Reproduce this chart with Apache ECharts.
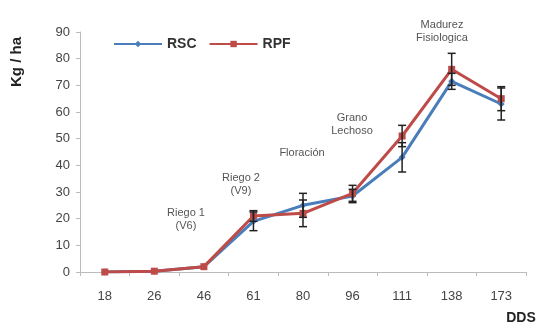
<!DOCTYPE html>
<html><head><meta charset="utf-8">
<script src="https://cdn.jsdelivr.net/npm/echarts@6/dist/echarts.min.js"></script>
<style>html,body{margin:0;padding:0;background:#fff}#c{width:540px;height:329px}</style>
</head><body><div id="c"></div>
<script>
const categories = ['18','26','46','61','80','96','111','138','173'];
const rscValues = [0, 0.3, 2, 19, 25, 28.5, 43, 71.5, 63];
const rscErrors = [0, 0, 0, 3.5, 4.5, 2.5, 5.5, 3, 6];
const rpfValues = [0, 0.3, 2, 21, 22, 29.5, 51, 76, 65];
const rpfErrors = [0, 0, 0, 2, 5, 3, 4, 6, 4.5];
const yTicks = [0, 10, 20, 30, 40, 50, 60, 70, 80, 90];
const annotations = [
  {text: 'Riego 1\n(V6)', x: 186, y: 206},
  {text: 'Riego 2\n(V9)', x: 241, y: 171},
  {text: 'Floración', x: 302, y: 146},
  {text: 'Grano\nLechoso', x: 352, y: 111},
  {text: 'Madurez\nFisiologica', x: 442, y: 18}
];

function errSeries(vals, errs, name) {
  return {
    type: 'custom', name: name + '_err', silent: true, z: 5,
    data: vals.map((v, i) => [i, v - errs[i], v + errs[i]]),
    renderItem: function (params, api) {
      const lo = api.coord([api.value(0), api.value(1)]);
      const hi = api.coord([api.value(0), api.value(2)]);
      if (Math.abs(hi[1] - lo[1]) < 1) return null;
      const w = 4;
      const st = {stroke: '#222', lineWidth: 1.5};
      return {type: 'group', children: [
        {type: 'line', shape: {x1: lo[0], y1: lo[1], x2: hi[0], y2: hi[1]}, style: st},
        {type: 'line', shape: {x1: lo[0]-w, y1: lo[1], x2: lo[0]+w, y2: lo[1]}, style: st},
        {type: 'line', shape: {x1: hi[0]-w, y1: hi[1], x2: hi[0]+w, y2: hi[1]}, style: st}
      ]};
    }
  };
}

const chart = echarts.init(document.getElementById('c'), null, {renderer: 'canvas'});
chart.setOption({
  animation: false,
  backgroundColor: '#fff',
  grid: {left: 80, right: 14, top: 32, bottom: 57, outerBoundsMode: 'none', containLabel: false},
  legend: {
    data: ['RSC', 'RPF'], left: 108, top: 32, itemWidth: 48, itemHeight: 8, itemGap: 12,
    textStyle: {fontFamily: 'Liberation Sans', fontWeight: 'bold', fontSize: 14, color: '#333'}
  },
  xAxis: {
    type: 'category', data: categories, boundaryGap: true,
    axisLine: {lineStyle: {color: '#bbb', width: 1}},
    axisTick: {show: true, lineStyle: {color: '#bbb'}, length: 4},
    axisLabel: {fontFamily: 'Liberation Sans', fontSize: 13, color: '#444', margin: 18}
  },
  yAxis: {
    type: 'value', min: yTicks[0], max: yTicks[yTicks.length-1], interval: 10,
    axisLine: {show: true, lineStyle: {color: '#bbb', width: 1}},
    axisTick: {show: true, lineStyle: {color: '#bbb'}, length: 4},
    splitLine: {show: false},
    axisLabel: {fontFamily: 'Liberation Sans', fontSize: 13, color: '#444', margin: 10}
  },
  series: [
    {name: 'RSC', type: 'line', data: rscValues, color: '#4a7ebb',
     lineStyle: {width: 3}, symbol: 'diamond', symbolSize: 7, showSymbol: true, z: 3},
    {name: 'RPF', type: 'line', data: rpfValues, color: '#be4b48',
     lineStyle: {width: 3}, symbol: 'rect', symbolSize: 7, showSymbol: true, z: 4},
    errSeries(rscValues, rscErrors, 'RSC'),
    errSeries(rpfValues, rpfErrors, 'RPF')
  ],
  graphic: annotations.map(a => ({
    type: 'text', x: a.x, y: a.y,
    style: {text: a.text, fill: '#555', font: '11px Liberation Sans', align: 'center', verticalAlign: 'top', lineHeight: 13}
  })).concat([
    {type: 'text', x: 17, y: 62, rotation: Math.PI / 2,
     style: {text: 'Kg / ha', fill: '#222', font: 'bold 15px Liberation Sans', align: 'center', verticalAlign: 'middle'}},
    {type: 'text', x: 521, y: 318,
     style: {text: 'DDS', fill: '#222', font: 'bold 14px Liberation Sans', align: 'center', verticalAlign: 'middle'}}
  ])
});
</script></body></html>
